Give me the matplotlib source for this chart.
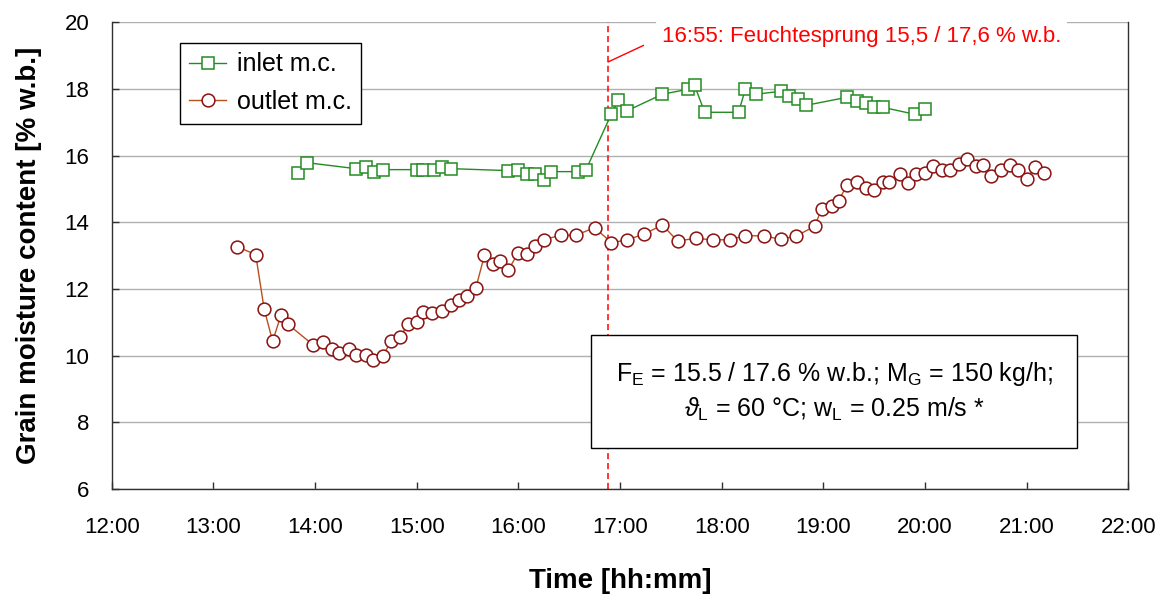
import numpy as np
import matplotlib
matplotlib.use("Agg")
import matplotlib.pyplot as plt

plt.rcParams['font.family'] = ['Liberation Sans', 'DejaVu Sans']
plt.rcParams['mathtext.fontset'] = 'custom'
plt.rcParams['mathtext.rm'] = 'Liberation Sans'
plt.rcParams['mathtext.it'] = 'Liberation Sans:italic'
plt.rcParams['mathtext.fallback'] = 'stixsans'

# inlet moisture content
in_time = ["13:50", "13:55", "14:24", "14:30", "14:35", "14:40", "15:00", "15:04",
           "15:10", "15:15", "15:20", "15:54", "16:00", "16:05", "16:10", "16:15",
           "16:19", "16:35", "16:40", "16:55", "16:59", "17:04", "17:25", "17:40",
           "17:44", "17:50", "18:10", "18:14", "18:20", "18:35", "18:40", "18:45",
           "18:50", "19:14", "19:20", "19:25", "19:30", "19:35", "19:54", "20:00"]
in_mc = [15.49, 15.79, 15.61, 15.67, 15.52, 15.58, 15.58, 15.58,
         15.58, 15.67, 15.61, 15.55, 15.58, 15.46, 15.46, 15.28,
         15.52, 15.52, 15.58, 17.26, 17.66, 17.34, 17.84, 17.99,
         18.11, 17.30, 17.30, 17.99, 17.84, 17.93, 17.78, 17.69,
         17.51, 17.75, 17.63, 17.57, 17.45, 17.45, 17.24, 17.39]

# outlet moisture content
out_time = ["13:14", "13:25", "13:30", "13:35", "13:40", "13:44", "13:59", "14:05",
            "14:10", "14:14", "14:20", "14:24", "14:30", "14:34", "14:40", "14:45",
            "14:50", "14:55", "15:00", "15:04", "15:09", "15:15", "15:20", "15:25",
            "15:30", "15:35", "15:40", "15:45", "15:49", "15:54", "16:00", "16:05",
            "16:10", "16:15", "16:25", "16:34", "16:45", "16:55", "17:04", "17:14",
            "17:25", "17:34", "17:45", "17:55", "18:05", "18:14", "18:25", "18:35",
            "18:44", "18:55", "18:59", "19:05", "19:09", "19:14", "19:20", "19:25",
            "19:30", "19:35", "19:39", "19:45", "19:50", "19:55", "20:00", "20:05",
            "20:10", "20:15", "20:20", "20:25", "20:30", "20:34", "20:39", "20:45",
            "20:50", "20:55", "21:00", "21:05", "21:10"]
out_mc = [13.27, 13.03, 11.40, 10.43, 11.23, 10.94, 10.32, 10.40,
          10.20, 10.07, 10.20, 10.03, 10.03, 9.86, 10.00, 10.43,
          10.55, 10.95, 11.00, 11.30, 11.27, 11.33, 11.51, 11.66,
          11.79, 12.04, 13.01, 12.74, 12.84, 12.56, 13.09, 13.04,
          13.28, 13.48, 13.61, 13.61, 13.84, 13.39, 13.47, 13.64,
          13.92, 13.44, 13.52, 13.47, 13.48, 13.60, 13.59, 13.49,
          13.59, 13.88, 14.41, 14.48, 14.65, 15.11, 15.21, 15.02,
          14.97, 15.22, 15.20, 15.45, 15.17, 15.45, 15.48, 15.70,
          15.57, 15.57, 15.75, 15.90, 15.70, 15.73, 15.38, 15.58,
          15.73, 15.57, 15.29, 15.67, 15.49]

x_ticks = ["12:00", "13:00", "14:00", "15:00", "16:00", "17:00",
           "18:00", "19:00", "20:00", "21:00", "22:00"]
y_ticks = [6, 8, 10, 12, 14, 16, 18, 20]

jump_time = "16:53"
jump_text = "16:55: Feuchtesprung 15,5 / 17,6 % w.b."
info_text = ("F$_\\mathregular{E}$ = 15.5 / 17.6 % w.b.; M$_\\mathregular{G}$ = 150 kg/h;\n"
             "$\\vartheta_\\mathregular{L}$ = 60 °C; w$_\\mathregular{L}$ = 0.25 m/s *")


def hours(s):
    """'hh:mm' -> Stunden als Dezimalzahl"""
    h, m = s.split(":")
    return int(h) + int(m) / 60.0


t_in = np.array([hours(s) for s in in_time])
t_out = np.array([hours(s) for s in out_time])
t_jump = hours(jump_time)

green = '#228b22'
red_edge = '#8b1010'
red_line = '#b8501c'

fig = plt.figure(figsize=(11.67, 5.94), dpi=100)
ax = fig.add_axes([0.0957, 0.1768, 0.8711, 0.7857])

ax.axvline(t_jump, color='red', lw=1.1, ls=(0, (4, 2.5)), zorder=2)

ax.plot(t_in, in_mc, color=green, lw=1.0, marker='s', ms=9.2,
        mfc='white', mec=green, mew=1.1, label='inlet m.c.', zorder=3)
ax.plot(t_out, out_mc, color=red_line, lw=1.0, marker='o', ms=9.2,
        mfc='white', mec=red_edge, mew=1.1, label='outlet m.c.', zorder=3)

ax.set_xlim(12, 22)
ax.set_ylim(6, 20)
ax.set_xticks([hours(s) for s in x_ticks])
ax.set_xticklabels(x_ticks)
ax.set_yticks(y_ticks)
ax.tick_params(axis='both', direction='in', length=5, width=1, labelsize=16,
               colors='#303030', labelcolor='black')
ax.tick_params(axis='x', pad=20)
ax.tick_params(axis='y', pad=16)
ax.grid(axis='y', color='#b0b0b0', lw=1.0)
ax.set_axisbelow(True)
for side in ['left', 'bottom', 'right']:
    ax.spines[side].set_color('#303030')
    ax.spines[side].set_linewidth(1.0)
ax.spines['top'].set_visible(False)

ax.set_xlabel('Time [hh:mm]', fontsize=20, fontweight='bold', labelpad=22)
ax.set_ylabel('Grain moisture content [% w.b.]', fontsize=20, fontweight='bold', labelpad=16)

leg = ax.legend(loc='upper left', bbox_to_anchor=(0.0672, 0.9556), borderaxespad=0,
                fontsize=18, frameon=True, fancybox=False, handlelength=1.45,
                handletextpad=0.45, borderpad=0.38, labelspacing=0.55)
leg.get_frame().set_edgecolor('black')
leg.get_frame().set_linewidth(1.0)
leg.get_frame().set_alpha(1)

ax.annotate(jump_text, xy=(t_jump, 18.81), xytext=(17.41, 19.56),
            ha='left', va='center', fontsize=16, color='red',
            bbox=dict(boxstyle='square,pad=0.25', fc='white', ec='none'),
            arrowprops=dict(arrowstyle='-', color='red', lw=1.0, relpos=(0, 0.5),
                            shrinkA=10, shrinkB=0),
            zorder=5)

ax.text(19.105, 8.92, info_text, ha='center', va='center', fontsize=18,
        linespacing=1.35, zorder=5,
        bbox=dict(boxstyle='square,pad=1.0', fc='white', ec='black', lw=1.0))

fig.savefig('out.png', dpi=100)
